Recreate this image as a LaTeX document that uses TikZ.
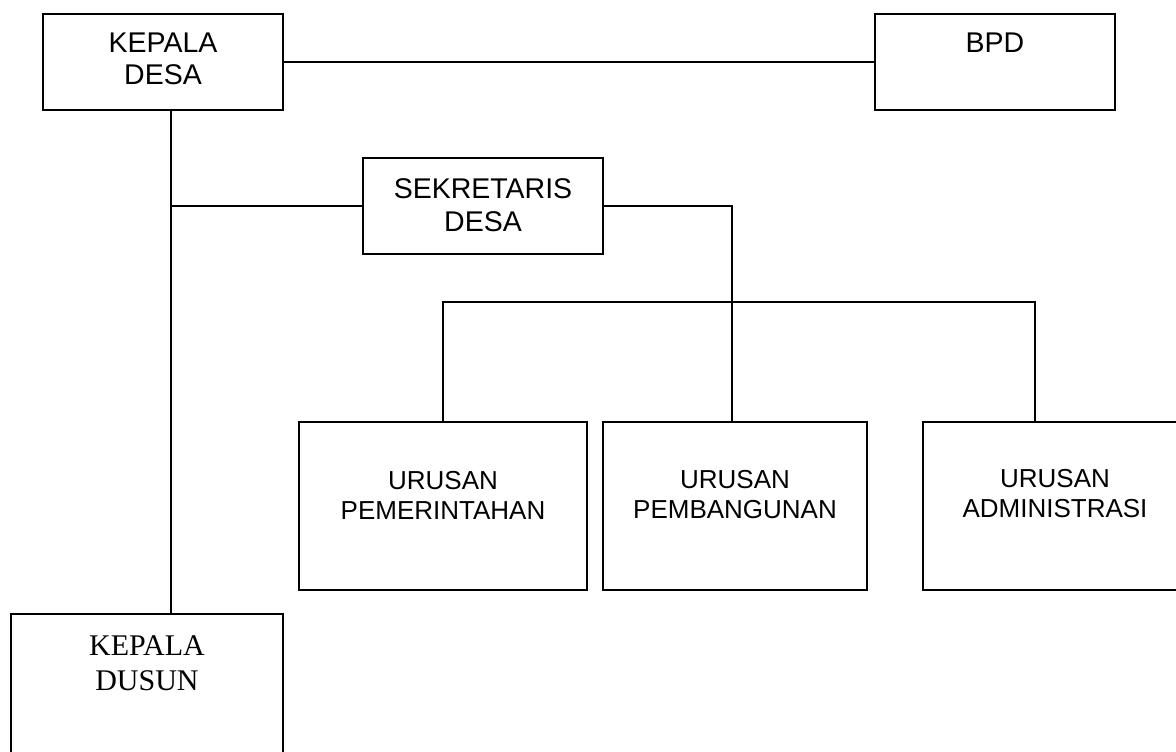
\documentclass[tikz,border=0pt]{standalone}
\usepackage{fontspec}
\setmainfont{Liberation Sans}
\newfontfamily\dusunfont{Liberation Serif}
\tikzset{box/.style={draw,line width=1.6pt,minimum width=#1,inner sep=0pt},
    txt/.style={align=center,inner sep=0pt,font=\fontsize{28.5}{32.5}\selectfont},
    urtxt/.style={align=center,inner sep=0pt,font=\fontsize{26}{30}\selectfont}
}

\begin{document}
\begin{tikzpicture}[x=1pt,y=-1pt,line width=1.6pt]
           \useasboundingbox (0,0) rectangle (1176,752);
           \node[box=240pt,minimum height=96pt] (kades) at (163,62) {};
           \node[box=240pt,minimum height=96pt] (bpd) at (995,62) {};
           \node[box=240pt,minimum height=96pt] (sekdes) at (483,206) {};
           \node[box=288pt,minimum height=168pt] (upem) at (443,506) {};
           \node[box=264pt,minimum height=168pt] (ubang) at (735,506) {};
           \node[box=267pt,minimum height=168pt] (uadm) at (1056.5,506) {};
           \node[box=272pt,minimum height=166pt] (kadus) at (147,697) {};
           % garis penghubung
           \coordinate (trunk) at (171,110);
           \coordinate (busL) at (443,302);
           \coordinate (busR) at (1035,302);
           \draw (kades.east) -- (bpd.west);
           \draw (kades.south -| trunk) -- (kadus.north -| trunk);
           \draw (sekdes.west) -- (sekdes.west -| trunk);
           \draw (sekdes.east) -| ([xshift=-3pt]ubang.north);
           \draw (upem.north) -- (busL) -- (busR) -- (busR |- uadm.north);
           % teks
           \node[txt] (tkades) at (163,59) {KEPALA\\DESA};
           \node[txt] (tbpd) at (995,43) {BPD};
           \node[txt] (tsekdes) at (483,205) {SEKRETARIS\\DESA};
           \node[urtxt] (tupem) at (443,495) {URUSAN\\PEMERINTAHAN};
           \node[urtxt] (tubang) at (735,495) {URUSAN\\PEMBANGUNAN};
           \node[urtxt] (tuadm) at (1055,494) {URUSAN\\ADMINISTRASI};
           \node[align=center,inner sep=0pt,font=\dusunfont\fontsize{30}{35}\selectfont] (tkadus) at (147,663) {KEPALA\\DUSUN};
         \end{tikzpicture}
\end{document}
